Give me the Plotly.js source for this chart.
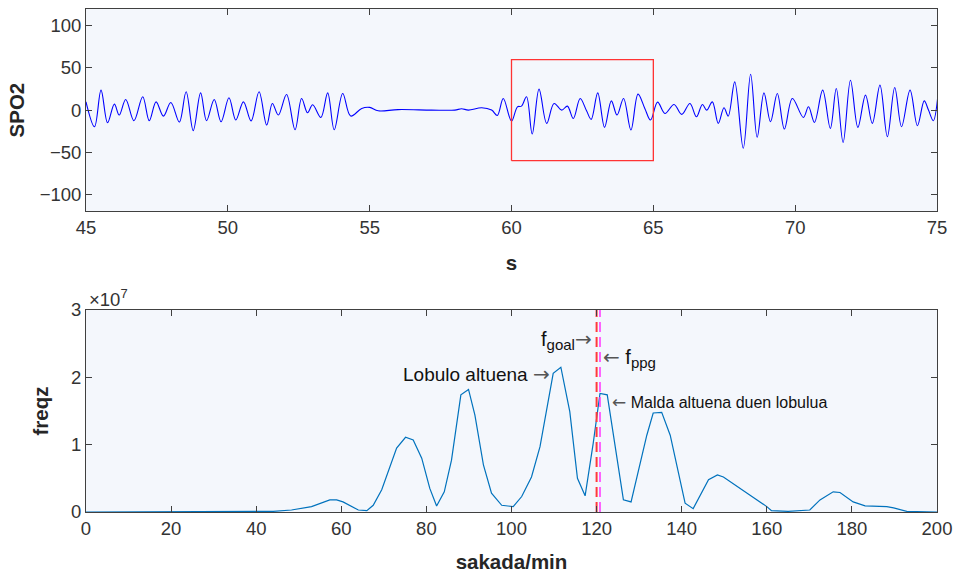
<!DOCTYPE html>
<html>
<head>
<meta charset="utf-8">
<script src="https://cdn.plot.ly/plotly-3.0.1.min.js"></script>
<style>
  html, body { margin: 0; padding: 0; background: #ffffff; }
  #chart { width: 953px; height: 576px; }
</style>
</head>
<body>
<div id="chart"></div>
<script>
// SPO2 signal, 45–75 s (turning points of the waveform)
const tSig = [45.0, 45.3, 45.53, 45.76, 46.0, 46.17, 46.4, 46.69, 47.0, 47.23,
  47.47, 47.73, 47.99, 48.29, 48.53, 48.78, 49.04, 49.25, 49.52, 49.76,
  50.04, 50.28, 50.55, 50.82, 51.1, 51.37, 51.57, 51.78, 52.07, 52.37,
  52.6, 52.81, 52.99, 53.28, 53.52, 53.75, 54.05, 54.33, 54.72, 55.0,
  55.3, 56.0, 57.18, 58.0, 58.24, 58.48, 58.95, 59.3, 59.5, 59.71,
  60.0, 60.21, 60.35, 60.53, 60.73, 60.97, 61.24, 61.5, 61.77, 61.97,
  62.18, 62.42, 62.65, 62.81, 63.04, 63.28, 63.52, 63.72, 63.95, 64.21,
  64.46, 64.7, 64.9, 65.15, 65.41, 65.73, 66.0, 66.29, 66.52, 66.73,
  66.88, 67.08, 67.29, 67.49, 67.64, 67.87, 68.17, 68.43, 68.66, 68.9,
  69.13, 69.37, 69.62, 69.9, 70.29, 70.47, 70.68, 70.97, 71.24, 71.45,
  71.69, 71.95, 72.21, 72.48, 72.72, 72.99, 73.25, 73.51, 73.75, 74.05,
  74.31, 74.55, 74.7, 74.87, 75.02];
const spo2 = [9.8, -19.7, 23.7, -15, 7.1, -5.9, 12.6, -12.6, 15.8, -12.6,
  9.8, -7.1, 9.1, -14.2, 21.7, -24.4, 20.5, -12.6, 12.6, -13.8,
  14.6, -11.8, 9.8, -13, 21.7, -17.7, 7.9, -5.9, 18.5, -23.3,
  13.8, -3.2, 6.3, -8.7, 20.5, -23.3, 19.7, -7.1, 2.0, 3.2,
  -0.8, 0.6, 0, 0, 1.6, 0, 2.8, 0, -6.3, 13.8,
  -13, 3.9, 4.7, 15.8, -28.4, 24.9, -15.8, 7.9, 0, 4.7,
  -9.9, 13.8, -1.2, -11, 20.5, -20.5, 11, -5.9, 13.8, -23.7,
  19, 2, -11.8, 9.5, -4, 6.7, -5.1, 7.9, -7.9, 6.7,
  0, 9.8, -15.8, 2.8, -7.1, 33.5, -45.3, 42.6, -32.3, 20.5,
  -13.8, 19.7, -22.5, 13.8, -8.7, 3.9, -14.6, 23.7, -21.7, 25.6,
  -38.3, 35.5, -20.5, 17.8, -15.8, 29.6, -31.6, 26.8, -19.7, 23.7,
  -18.5, 11, 0, -12.6, 13.8];

// Highlighted window on the signal
const windowT = [60, 65];
const windowV = [-60, 60];

// Spectrum magnitude vs. beats per minute
const bpm = [0, 40, 44, 48.3, 53, 57.3, 58.9, 60.4, 64, 66,
  67.5, 69.5, 73, 75.1, 76.9, 78.9, 80.8, 82.4, 84.2, 85.9,
  88.1, 89.9, 91.4, 93.4, 95.3, 97.7, 100.4, 102.4, 104.7, 106.7,
  109.8, 111.6, 113.7, 115.5, 117.3, 119.2, 120.8, 122.5, 124.3, 126.3,
  128.1, 131.8, 133.3, 135.3, 137.3, 140.8, 142.7, 146.3, 148.4, 149.8,
  160, 161.1, 165, 170.1, 172.5, 175.6, 177.2, 180.3, 183.1, 188.2,
  189.8, 192.9, 200];
const freqz = [0, 0, 0.01e7, 0.03e7, 0.08e7, 0.18e7, 0.18e7, 0.15e7, 0.03e7, 0.02e7,
  0.1e7, 0.33e7, 0.95e7, 1.11e7, 1.07e7, 0.8e7, 0.35e7, 0.09e7, 0.3e7, 0.77e7,
  1.74e7, 1.82e7, 1.44e7, 0.7e7, 0.28e7, 0.1e7, 0.08e7, 0.23e7, 0.52e7, 0.97e7,
  2.06e7, 2.15e7, 1.49e7, 0.5e7, 0.24e7, 1.02e7, 1.76e7, 1.74e7, 1.02e7, 0.18e7,
  0.15e7, 1.14e7, 1.47e7, 1.48e7, 1.14e7, 0.13e7, 0.05e7, 0.48e7, 0.55e7, 0.52e7,
  0.08e7, 0.02e7, 0.01e7, 0.03e7, 0.18e7, 0.30e7, 0.29e7, 0.15e7, 0.09e7, 0.08e7,
  0.06e7, 0.01e7, 0];

// Target and estimated heart rates (beats/min)
const fGoal = 120.0;
const fPpg = 120.8;

// Tick labels
const topXTicks = [45, 50, 55, 60, 65, 70, 75];
const topYTicks = [-100, -50, 0, 50, 100];
const botXTicks = [0, 20, 40, 60, 80, 100, 120, 140, 160, 180, 200];
const botYTicks = [0, 1e7, 2e7, 3e7];
const botYTickText = ['0', '1', '2', '3'];

const FONT = 'Liberation Sans, Arial, sans-serif';
const INK = '#262626';
const AX = '#404040';
const BG = 'rgb(244,247,252)';
const TITLE_FONT = { family: FONT, size: 20.5, color: INK };

const axisCommon = {
  showline: true, linecolor: AX, linewidth: 1, mirror: 'ticks',
  ticks: 'inside', ticklen: 6, tickcolor: AX, tickwidth: 1,
  showgrid: false, zeroline: false,
  tickfont: { family: FONT, size: 18.5, color: '#333333' }
};

const traces = [
  {
    x: tSig, y: spo2, xaxis: 'x', yaxis: 'y', type: 'scatter', mode: 'lines',
    line: { color: '#0000ff', width: 1.1, shape: 'spline', smoothing: 1 },
    hoverinfo: 'skip'
  },
  {
    x: [windowT[0], windowT[1], windowT[1], windowT[0], windowT[0]],
    y: [windowV[0], windowV[0], windowV[1], windowV[1], windowV[0]],
    xaxis: 'x', yaxis: 'y', type: 'scatter', mode: 'lines',
    line: { color: '#ff3333', width: 1.3 }, hoverinfo: 'skip'
  },
  {
    x: bpm, y: freqz, xaxis: 'x2', yaxis: 'y2', type: 'scatter', mode: 'lines',
    line: { color: '#0072BD', width: 1.2 }, hoverinfo: 'skip'
  },
  {
    x: [fGoal, fGoal], y: [0, 3e7], xaxis: 'x2', yaxis: 'y2', type: 'scatter', mode: 'lines',
    line: { color: '#ff3b3b', width: 2, dash: '10px,5px' }, hoverinfo: 'skip'
  },
  {
    x: [fPpg, fPpg], y: [0, 3e7], xaxis: 'x2', yaxis: 'y2', type: 'scatter', mode: 'lines',
    line: { color: '#ff33ff', width: 1.5, dash: '10px,5px' }, hoverinfo: 'skip'
  }
];

// thin grey arrow glyph used inside the annotations
const arrowSpan = (s, px) =>
  '<span style="color:#555555;font-family:DejaVu Sans;font-size:' + px + 'px">' + s + '</span>';
const subSpan = s => '<sub><span style="font-size:15px">' + s + '</span></sub>';

const layout = {
  width: 953, height: 576,
  margin: { l: 86, r: 16, t: 9, b: 64 },
  paper_bgcolor: '#ffffff',
  plot_bgcolor: BG,
  showlegend: false,
  font: { family: FONT, color: INK },
  xaxis: Object.assign({}, axisCommon, {
    domain: [0, 1], anchor: 'y', range: [45, 75], tickvals: topXTicks,
    title: { text: '<b>s</b>', font: TITLE_FONT, standoff: 18 }
  }),
  yaxis: Object.assign({}, axisCommon, {
    domain: [0.598, 1], anchor: 'x', range: [-120, 120], tickvals: topYTicks,
    title: { text: '<b>SPO2</b>', font: TITLE_FONT, standoff: 9 }
  }),
  xaxis2: Object.assign({}, axisCommon, {
    domain: [0, 1], anchor: 'y2', range: [0, 200], tickvals: botXTicks,
    title: { text: '<b>sakada/min</b>', font: TITLE_FONT, standoff: 16 }
  }),
  yaxis2: Object.assign({}, axisCommon, {
    domain: [0, 0.4016], anchor: 'x2', range: [0, 3e7],
    tickvals: botYTicks, ticktext: botYTickText,
    title: { text: '<b>freqz</b>', font: TITLE_FONT, standoff: 16 }
  }),
  annotations: [
    {
      xref: 'paper', yref: 'paper', x: 0.001, y: 0.426, xanchor: 'left', yanchor: 'middle',
      text: '×10<sup>7</sup>', showarrow: false,
      font: { family: FONT, size: 18.5, color: '#333333' }
    },
    {
      xref: 'x2', yref: 'y2', x: 109.6, y: 2.05e7, xanchor: 'right', yanchor: 'middle',
      text: 'Lobulo altuena ' + arrowSpan('→', 20), showarrow: false,
      font: { family: FONT, size: 19, color: '#111111' }
    },
    {
      xref: 'x2', yref: 'y2', x: 119.4, y: 2.56e7, xanchor: 'right', yanchor: 'middle',
      text: 'f' + subSpan('goal') + arrowSpan('→', 20), showarrow: false,
      font: { family: FONT, size: 20, color: '#111111' }
    },
    {
      xref: 'x2', yref: 'y2', x: 121.1, y: 2.28e7, xanchor: 'left', yanchor: 'middle',
      text: arrowSpan('←', 20) + ' f' + subSpan('ppg'), showarrow: false,
      font: { family: FONT, size: 20, color: '#111111' }
    },
    {
      xref: 'x2', yref: 'y2', x: 123.2, y: 1.64e7, xanchor: 'left', yanchor: 'middle',
      text: arrowSpan('←', 17) + ' Malda altuena duen lobulua', showarrow: false,
      font: { family: FONT, size: 16, color: '#111111' }
    }
  ]
};

Plotly.newPlot('chart', traces, layout, { staticPlot: true, displayModeBar: false });
</script>
</body>
</html>
